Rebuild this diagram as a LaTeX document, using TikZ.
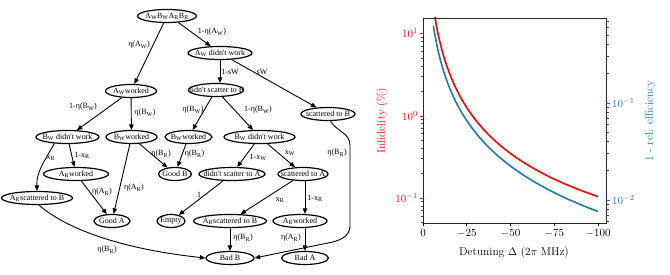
\documentclass[tikz,border=0pt]{standalone}
\usepackage{fontspec}
\newfontfamily\tms{Liberation Serif}
\usetikzlibrary{shapes.geometric,arrows.meta}
\definecolor{mred}{rgb}{1,0,0}
\definecolor{mblue}{HTML}{1F77B4}
\begin{document}
\begin{tikzpicture}[x=1pt,y=1pt,
  st/.style={ellipse,draw,line width=1.2pt,inner sep=0pt,minimum height=13pt,font=\tms\fontsize{8}{9}\selectfont},
  lb/.style={inner sep=0pt,font=\tms\fontsize{8}{9}\selectfont},
  ar/.style={-{Triangle[length=5.5pt,width=4.5pt]},line width=0.9pt},
  pf/.style={font=\fontsize{11.4}{13}\selectfont},
  mintick/.style={line width=0.6pt,black!75},
  majtick/.style={line width=0.8pt},
  curve/.style={line width=1.6pt}
]
\useasboundingbox (0,0) rectangle (670,-275);
% ---------------- graph ----------------
\node[st,minimum width=59pt] (root) at (167,-16) {\makebox[0pt]{A\textsubscript{W}B\textsubscript{W}A\textsubscript{R}B\textsubscript{R}}};
\node[st,minimum width=64pt] (awd) at (220,-53) {\makebox[0pt]{A\textsubscript{W} didn't work}};
\node[st,minimum width=51pt] (aww) at (131,-91) {\makebox[0pt]{A\textsubscript{W}worked}};
\node[st,minimum width=55pt] (dnsB) at (216,-90) {\makebox[0pt]{didn't scatter to B}};
\node[st,minimum width=54pt] (sctB) at (328,-114) {\makebox[0pt]{scattered to B}};
\node[st,minimum width=63pt] (bwdL) at (67.5,-137) {\makebox[0pt]{B\textsubscript{W} didn't work}};
\node[st,minimum width=51pt] (bwwL) at (131.5,-137) {\makebox[0pt]{B\textsubscript{W}worked}};
\node[st,minimum width=47pt] (bwwM) at (188.5,-137) {\makebox[0pt]{B\textsubscript{W}worked}};
\node[st,minimum width=71pt] (bwdR) at (259.5,-137) {\makebox[0pt]{B\textsubscript{W} didn't work}};
\node[st,minimum width=65pt] (arwL) at (76,-174) {\makebox[0pt]{A\textsubscript{R}worked}};
\node[st,minimum width=33pt] (goodB) at (175,-174) {\makebox[0pt]{Good B}};
\node[st,minimum width=66pt] (dnsA) at (232,-174) {\makebox[0pt]{didn't scatter to A}};
\node[st,minimum width=50pt] (sctA) at (303,-174) {\makebox[0pt]{scattered to A}};
\node[st,minimum width=71pt] (arsL) at (37,-198) {\makebox[0pt]{A\textsubscript{R}scattered to B}};
\node[st,minimum width=36pt] (goodA) at (112,-221) {\makebox[0pt]{Good A}};
\node[st,minimum width=28pt] (empty) at (171,-221) {\makebox[0pt]{Empty}};
\node[st,minimum width=73pt] (arsM) at (230,-221) {\makebox[0pt]{A\textsubscript{R}scattered to B}};
\node[st,minimum width=54pt] (arwR) at (300,-221) {\makebox[0pt]{A\textsubscript{R}worked}};
\node[st,minimum width=48pt] (badB) at (230,-258) {\makebox[0pt]{Bad B}};
\node[st,minimum width=47pt] (badA) at (305,-258) {\makebox[0pt]{Bad A}};
\coordinate (c1) at (350,-145);
\coordinate (c2) at (350,-226);
\coordinate (c3) at (328,-243);
% edges
\draw[ar] (root.-30) -- (awd);
\draw[ar] (root) -- (aww);
\draw[ar] (aww) -- (bwdL);
\draw[ar] (aww) -- (bwwL);
\draw[ar] (awd.south) -- (awd.south |- dnsB.north);
\draw[ar] (awd) -- (sctB);
\draw[ar] (dnsB) -- (bwwM);
\draw[ar] (dnsB) -- (bwdR);
\draw[ar] (bwdL) -- (arwL);
\draw[ar] (bwdL.-154) to[out=-118,in=92] (arsL.north);
\draw[ar] (bwwL) -- (goodB);
\draw[ar] (bwwL) -- (goodA);
\draw[ar] (bwwM) -- (goodB);
\draw[ar] (arwL) -- (goodA);
\draw[ar] (bwdR) -- (dnsA);
\draw[ar] (bwdR) -- (sctA);
\draw[ar] (dnsA) -- (empty);
\draw[ar] (sctA) -- (arsM);
\draw[ar] (sctA.south -| badA) -- (arwR.north -| badA);
\draw[ar] (arsM) -- (badB);
\draw[ar] (arwR.south -| badA) -- (badA);
\draw[ar] (arsL.-75) .. controls (70,-232) and (130,-250) .. (badB.west);
\draw[ar] (sctB.-70) to[out=-60,in=90] (c1) -- (c2) to[out=-90,in=10] (c3) -- (badB.east);
% edge labels
\node[lb] (l1) at (139,-45) {η(A\textsubscript{W})};
\node[lb] (l2) at (212,-32) {1-η(A\textsubscript{W})};
\node[lb] (l3) at (83,-107) {1-η(B\textsubscript{W})};
\node[lb] (l4) at (145,-113) {η(B\textsubscript{W})};
\node[lb] (l5) at (230,-72) {1-sW};
\node[lb] (l6) at (262,-72) {sW};
\node[lb] (l7) at (193,-110) {η(B\textsubscript{W})};
\node[lb] (l8) at (258,-110) {1-η(B\textsubscript{W})};
\node[lb] (l9) at (51,-158) {x\textsubscript{R}};
\node[lb] (l10) at (82,-155) {1-x\textsubscript{R}};
\node[lb] (l11) at (161,-154) {η(B\textsubscript{R})};
\node[lb] (l12) at (194.5,-154) {η(B\textsubscript{R})};
\node[lb] (l13) at (134,-188) {η(A\textsubscript{R})};
\node[lb] (l14) at (102,-192) {η(A\textsubscript{R})};
\node[lb] (l15) at (258,-157) {1-x\textsubscript{W}};
\node[lb] (l16) at (290,-153) {x\textsubscript{W}};
\node[lb] (l17) at (199,-195) {1};
\node[lb] (l18) at (280,-200) {x\textsubscript{R}};
\node[lb] (l19) at (315,-198) {1-x\textsubscript{R}};
\node[lb] (l20) at (337,-153) {η(B\textsubscript{R})};
\node[lb] (l21) at (243,-238) {η(B\textsubscript{R})};
\node[lb] (l22) at (291,-238) {η(A\textsubscript{R})};
\node[lb] (l23) at (107,-250) {η(B\textsubscript{R})};
% ---------------- plot ----------------
\begin{scope}
\clip (423,-18) rectangle (606,-223);
\draw[curve,mred] plot[domain=5:100,samples=36,smooth] ({423+1.75*\x},{-(115.5-35.829*(ln(692+3.48*\x)-2*ln(\x)))});
\draw[curve,mblue] plot[domain=5.9:100,samples=36,smooth] ({423+1.75*\x},{-(-90.5+65.578*ln(\x))});
\end{scope}
\draw[line width=0.9pt,black!85] (423,-18) rectangle (606,-223);
% x ticks
\foreach \v/\xx in {0/423,-25/466.75,-50/510.5,-75/554.25,-100/598}{
  \draw[majtick] (\xx,-223) -- (\xx,-226.5);
  \node[pf,anchor=north,inner sep=0pt] at (\xx,-229) {$\v$};
}
\node[pf] (xl) at (514,-253) {Detuning $\Delta$ $(2\pi$ MHz)};
% left axis
\foreach \yy in {37.3,41.5,46.3,51.8,58.3,66.3,76.6,91.2,119.3,123.5,128.3,133.8,140.3,148.3,158.6,173.2,201.8,206,210.8,216.3,222.8}{
  \draw[mintick] (423,-\yy) -- (420.5,-\yy);
}
\foreach \yy/\e in {33/1,116/0,198/-1}{
  \draw[majtick,mred] (423,-\yy) -- (419.5,-\yy);
  \node[pf,mred,anchor=east,inner sep=0pt] at (418,-\yy) {$10^{\e}$};
}
\node[pf,mred,rotate=90] (yl) at (382,-121) {Infidelity (\%)};
% right axis
\foreach \yy in {21.0,27.5,35.2,44.6,56.7,73.8,107.4,112.4,118.0,124.5,132.2,141.6,153.7,170.8,204.4,209.4,215.0,221.5}{
  \draw[mintick] (606,-\yy) -- (608.5,-\yy);
}
\foreach \yy/\e in {103/-1,200/-2}{
  \draw[majtick,mblue] (606,-\yy) -- (609.5,-\yy);
  \node[pf,mblue,anchor=west,inner sep=0pt] at (612,-\yy) {$10^{\e}$};
}
\node[pf,mblue,rotate=90] (yr) at (650,-121) {1 - rel. efficiency};
\end{tikzpicture}
\end{document}
